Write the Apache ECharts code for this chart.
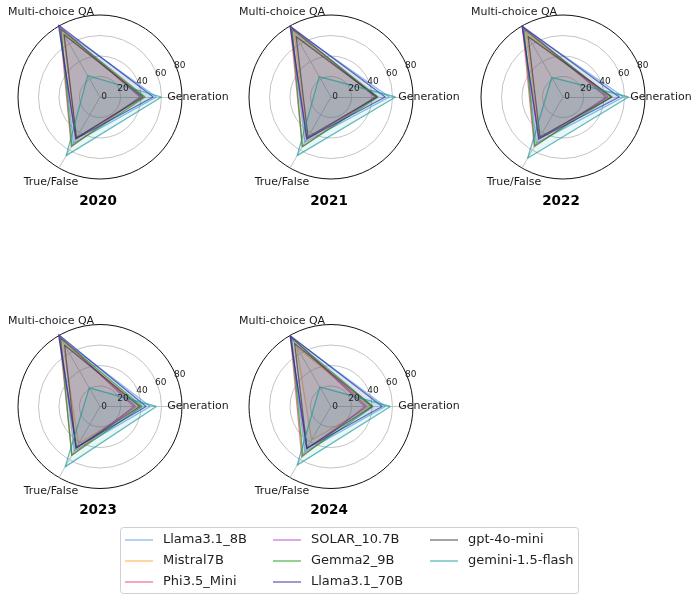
<!DOCTYPE html>
<html>
<head>
<meta charset="utf-8">
<script src="https://cdn.jsdelivr.net/npm/echarts@6/dist/echarts.min.js"></script>
<style>
  html, body { margin: 0; padding: 0; background: #fff; }
  #chart { width: 692px; height: 594px; }
</style>
</head>
<body>
<div id="chart"></div>
<script>
// Benchmark scores per model across three task types, one radar per year.
const years = ['2020', '2021', '2022', '2023', '2024'];
const tasks = ['Generation', 'Multi-choice QA', 'True/False'];
const models = ['Llama3.1_8B', 'Mistral7B', 'Phi3.5_Mini', 'SOLAR_10.7B',
                'Gemma2_9B', 'Llama3.1_70B', 'gpt-4o-mini', 'gemini-1.5-flash'];
const radialTicks = [0, 20, 40, 60, 80];

// [Generation, Multi-choice QA, True/False] for each model, in model order
const scores2020 = [[55, 77, 52], [43, 72, 46], [39, 78, 56], [40, 79, 48],
                    [44, 76, 55], [52, 81, 47], [42, 70, 46], [60, 24, 66]];
const scores2021 = [[57, 77, 51], [45, 72, 47], [43, 79, 56], [44, 78, 48],
                    [46, 76, 56], [53, 80, 47], [45, 68, 45], [63, 23, 66]];
const scores2022 = [[59, 78, 52], [46, 72, 47], [42, 79, 56], [44, 79, 48],
                    [47, 76, 55], [55, 80, 47], [48, 68, 45], [64, 22, 69]];
const scores2023 = [[49, 77, 50], [38, 73, 42], [33, 79, 55], [35, 79, 47],
                    [41, 77, 55], [45, 81, 46], [39, 69, 47], [55, 21, 68]];
const scores2024 = [[53, 78, 51], [38, 67, 38], [33, 79, 57], [35, 79, 48],
                    [41, 77, 55], [50, 80, 47], [40, 71, 47], [58, 22, 66]];
const scoresByYear = [scores2020, scores2021, scores2022, scores2023, scores2024];

const baseColors = ['83,155,231', '251,165,53', '225,65,105', '177,65,209',
                    '17,153,17', '33,33,153', '51,51,51', '17,153,153'];

const FONT = 'DejaVu Sans';
const centers = [[100, 97], [331, 97], [563, 97], [100, 406.5], [331, 406.5]];
const RADIUS = 82;

const lineColor = (i, a) => 'rgba(' + baseColors[i] + ',' + a + ')';
const fillColor = i => 'rgba(' + baseColors[i] + ',0.12)';

const chart = echarts.init(document.getElementById('chart'), null, { renderer: 'canvas' });

const radar = centers.map(c => ({
  center: c,
  radius: RADIUS,
  startAngle: 0,
  shape: 'circle',
  splitNumber: radialTicks.length - 1,
  indicator: tasks.map(t => ({ name: t, min: radialTicks[0], max: radialTicks[radialTicks.length - 1] })),
  nameGap: 16,
  axisName: {
    color: '#1a1a1a', fontSize: 11, fontFamily: FONT,
    align: 'center', verticalAlign: 'middle',
    padding: [4, 0, 0, 0]
  },
  axisLine: { lineStyle: { color: '#c4c4c4', width: 1 } },
  splitLine: { lineStyle: { color: ['#c4c4c4', '#c4c4c4', '#c4c4c4', '#c4c4c4', '#111'], width: 1 } },
  splitArea: { show: false },
  axisTick: { show: false },
  axisLabel: { show: false }
}));

// polar frames share each radar's centre, carrying the radial tick labels
const polar = centers.map(c => ({ center: c, radius: RADIUS }));
const angleAxis = centers.map((c, i) => ({
  polarIndex: i, type: 'value', min: 0, max: 360, startAngle: 22.5, show: false
}));
const radiusAxis = centers.map((c, i) => ({
  polarIndex: i, type: 'value', z: 10,
  min: radialTicks[0], max: radialTicks[radialTicks.length - 1],
  interval: radialTicks[1] - radialTicks[0],
  axisLine: { show: false }, axisTick: { show: false }, splitLine: { show: false },
  axisLabel: {
    margin: 0, align: 'center', verticalAlign: 'middle',
    fontSize: 9, fontFamily: FONT, color: '#222',
    padding: [0, 0, 9, 8]
  }
}));

const series = scoresByYear.map((scores, yi) => ({
  type: 'radar',
  radarIndex: yi,
  symbol: 'none',
  data: scores.map((vals, mi) => ({
    name: models[mi],
    value: vals,
    lineStyle: { color: lineColor(mi, 0.65), width: 1.3 },
    itemStyle: { color: lineColor(mi, 0.65) },
    areaStyle: { color: fillColor(mi) }
  }))
}));

const title = years.map((y, i) => ({
  text: y,
  left: centers[i][0] - 2,
  top: centers[i][1] + 104,
  textAlign: 'center',
  textVerticalAlign: 'middle',
  padding: 0,
  textStyle: { fontSize: 13.5, fontWeight: 'bold', fontFamily: FONT, color: '#000' }
}));

const colX = [125, 273, 430];
const legend = colX.map((x, c) => ({
  orient: 'vertical',
  left: x, top: 532,
  padding: 0,
  itemWidth: 28, itemHeight: 2, itemGap: 5,
  icon: 'rect',
  data: models.slice(c * 3, c * 3 + 3).map(name => ({
    name, itemStyle: { color: lineColor(models.indexOf(name), 0.45) }
  })),
  textStyle: { fontSize: 13, fontFamily: FONT, color: '#222', lineHeight: 16, padding: [0, 0, 0, 5] }
}));

chart.setOption({
  backgroundColor: '#fff',
  animation: false,
  title,
  radar,
  polar,
  angleAxis,
  radiusAxis,
  legend,
  graphic: [{
    type: 'rect', z: -1, left: 120, top: 527,
    shape: { width: 458, height: 66, r: 3 },
    style: { fill: '#fff', stroke: '#d0d0d0', lineWidth: 1 }
  }],
  series
});
</script>
</body>
</html>
